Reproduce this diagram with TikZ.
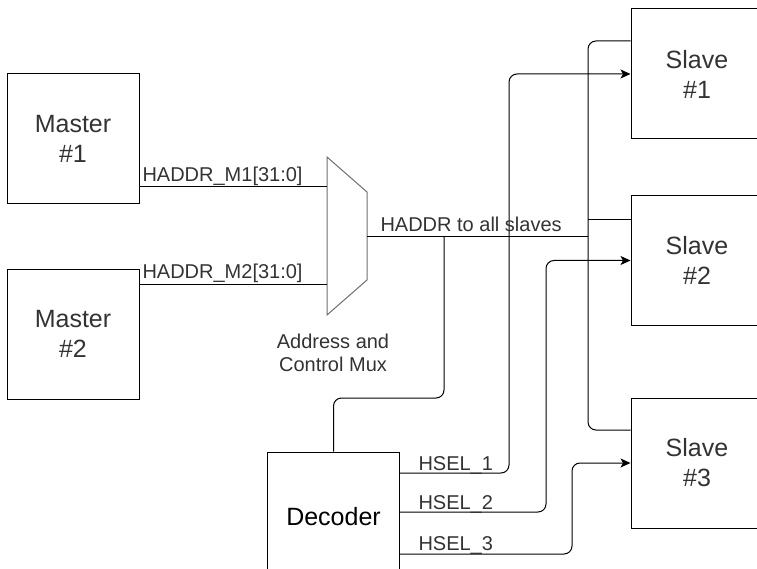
\documentclass[tikz,border=0pt]{standalone}
\usepackage{fontspec}
\setmainfont{Liberation Sans}
\usetikzlibrary{arrows.meta}
\definecolor{txtgray}{HTML}{333333}
\definecolor{muxgray}{HTML}{707070}

\begin{document}
\begin{tikzpicture}[x=1pt,y=-1pt,line width=1pt,>={Stealth[length=10pt,width=9pt,inset=2.5pt]},
box/.style={draw,align=center,minimum width=132pt,minimum height=130pt,font=\fontsize{25}{30}\selectfont,text=txtgray},
lbl/.style={inner sep=0pt,anchor=base west,font=\fontsize{20}{23}\selectfont,text=txtgray},
wire/.style={rounded corners=8pt},sel/.style={->,rounded corners=8pt}]
\clip (0,0) rectangle (757,569);
\node[box] (m1) at (73,139) {Master\\\#1};
\node[box] (m2) at (73,334) {Master\\\#2};
\node[box] (s1) at (697,74) {Slave\\\#1};
\node[box] (s2) at (697,260.5) {Slave\\\#2};
\node[box] (s3) at (697,463) {Slave\\\#3};
\node[box,text=black] (dec) at (333.5,517) {Decoder};
\draw[muxgray] (327,157) -- (367,192) -- (367,280) -- (327,315) -- cycle;
\coordinate (in1) at (327,187);\coordinate (in2) at (327,284);\coordinate (out) at (367,237);
\node[lbl,anchor=center,align=center] (muxlbl) at (333,353) {Address and\\Control Mux};
\coordinate (hub) at (588,237);\coordinate (tap) at (444,237);\coordinate (bend) at (333.5,398);
\coordinate (t1) at (588,41);\coordinate (t2) at (588,220);\coordinate (t3) at (588,430);
\coordinate (h1) at (509,473);\coordinate (h2) at (546,512);\coordinate (h3) at (572,554);
\draw (m1.east |- in1) -- (in1);\draw (m2.east |- in2) -- (in2);
\draw (out) -- (hub);
\draw[wire] (s1.west |- t1) -- (t1) -- (t3) -- (s3.west |- t3);
\draw (t2) -- (s2.west |- t2);
\draw[wire] (tap) |- (bend) -- (dec.north);
\draw[sel] (dec.east |- h1) -- (h1) |- (s1.west);
\draw[sel] (dec.east |- h2) -- (h2) |- (s2.west);
\draw[sel] (dec.east |- h3) -- (h3) |- (s3.west);
\node[lbl] (a1) at (142,182) {HADDR\_M1[31:0]};
\node[lbl] (a2) at (142,278) {HADDR\_M2[31:0]};
\node[lbl] (all) at (380,232) {HADDR to all slaves};
\node[lbl] (hs1) at (418,470) {HSEL\_1};
\node[lbl] (hs2) at (418,509) {HSEL\_2};
\node[lbl] (hs3) at (418,550) {HSEL\_3};
\end{tikzpicture}
\end{document}
